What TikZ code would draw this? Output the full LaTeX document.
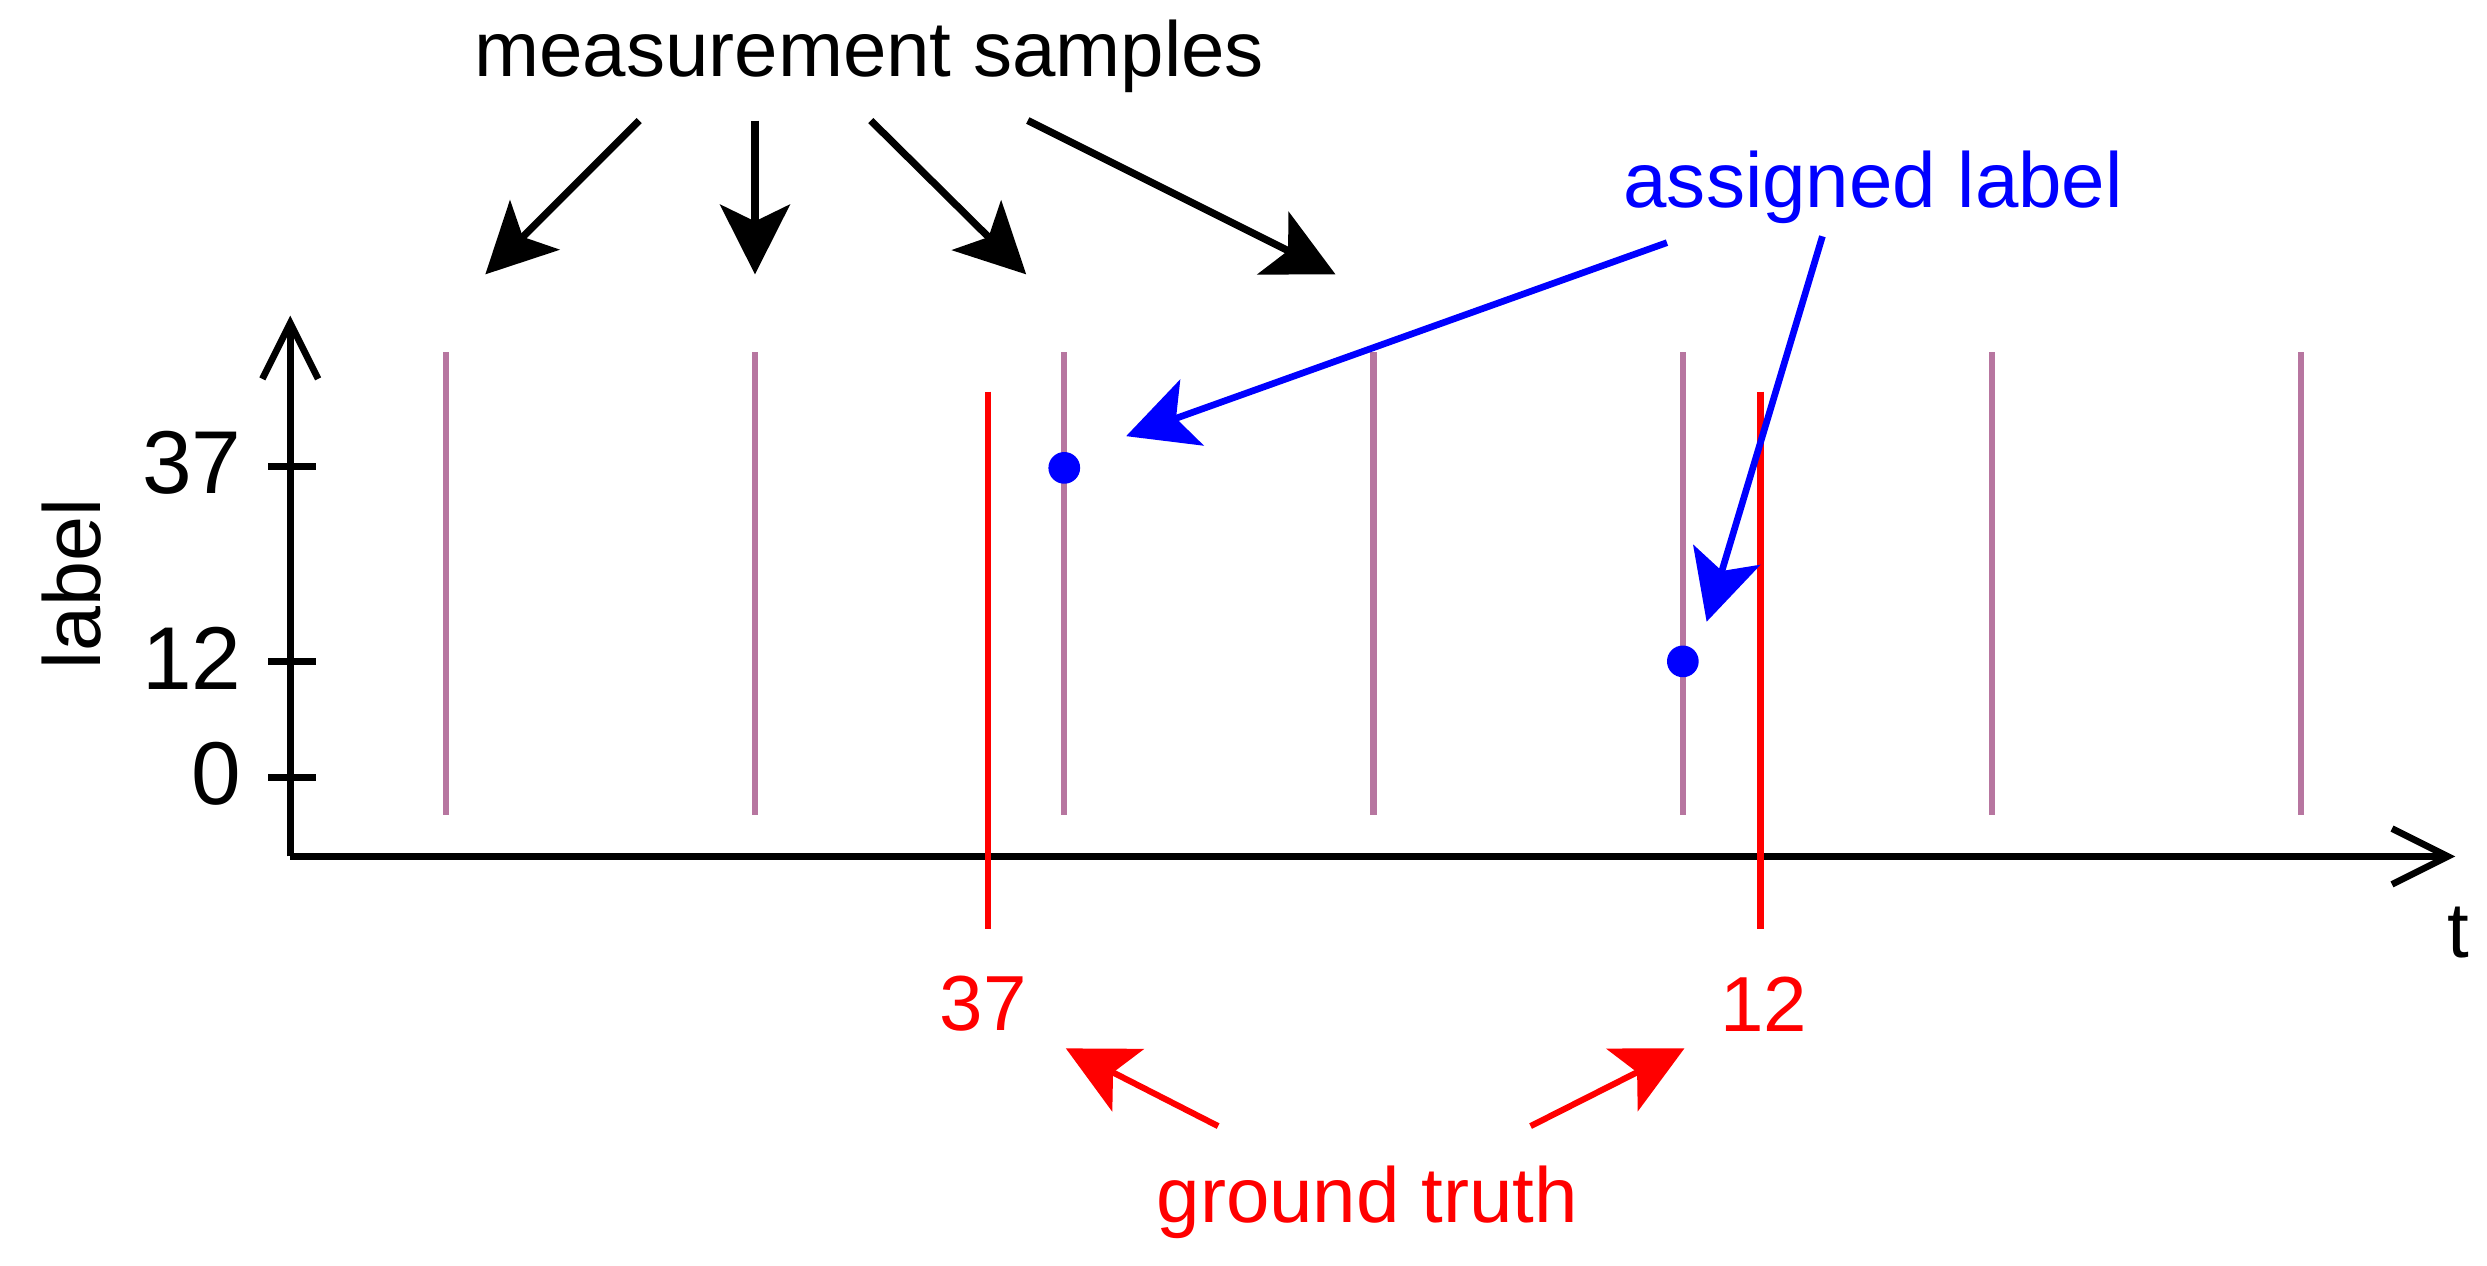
\documentclass[tikz,border=0pt]{standalone}
\usepackage{fontspec}
\setmainfont{Liberation Sans}
\usetikzlibrary{arrows.meta}
\definecolor{sampcol}{RGB}{183,118,160}

\begin{document}
\begin{tikzpicture}[x=0.01cm,y=-0.01cm,line cap=butt,
  txt/.style={font=\fontsize{14}{16}\selectfont,inner sep=0pt},
  num/.style={font=\fontsize{16}{18}\selectfont,inner sep=0pt},
  axis/.style={line width=1.2pt,-{Straight Barb[length=10pt,width=10pt,line width=1.2pt]}},
  bigarrow/.style={line width=1.3pt,-{Stealth[length=12.5pt,width=12.5pt,inset=3pt]}}]
  \useasboundingbox (0,0) rectangle (1568,798);

  % axes
  \coordinate (o) at (183,540);
  \coordinate (ytop) at (183,199);
  \coordinate (xend) at (1548,540);
  \draw[axis] (o) -- (ytop);
  \draw[axis] (o) -- (xend);
  \foreach \v/\y in {37/294,12/417,0/490}{
    \draw[line width=1.2pt] (169,\y) coordinate (tk\v) -- (199,\y);
    \node[num,anchor=east] (lab\v) at (153,\y-2) {\v};
  }
  \node[txt,rotate=90,font=\fontsize{14.5}{16}\selectfont] (ylab) at (45,368) {label};
  \node[txt] (tlab) at (1550,588) {t};

  % samples
  \foreach \i in {0,...,6}
    \draw[sampcol,line width=1.1pt] (281+195*\i,222) coordinate (s\i) -- (281+195*\i,514);

  % ground truth
  \draw[red,line width=1.2pt] (623,247) coordinate (g1) -- (623,586);
  \draw[red,line width=1.2pt] (1110,247) coordinate (g2) -- (1110,586);
  \node[txt,red] (gt37) at (620,633) {37};
  \node[txt,red] (gt12) at (1112,633) {12};

  % assigned labels
  \fill[blue] (671,295) circle (10) node (d1) {};
  \fill[blue] (1061,417) circle (10) node (d2) {};

  \node[txt,anchor=base] (meas) at (548,48) {measurement samples};
  \coordinate (m1) at (403,76);   \coordinate (e1) at (306,173);
  \coordinate (m2) at (476,76);   \coordinate (e2) at (476,173);
  \coordinate (m3) at (549,76);   \coordinate (e3) at (647,173);
  \coordinate (m4) at (648,76);   \coordinate (e4) at (842,173);
  \draw[bigarrow] (m1) -- (e1);
  \draw[bigarrow] (m2) -- (e2);
  \draw[bigarrow] (m3) -- (e3);
  \draw[bigarrow] (m4) -- (e4);

  \node[txt,blue,anchor=base] (asg) at (1181,131) {assigned label};
  \coordinate (a1) at (1051,153);  \coordinate (b1) at (710,275);
  \coordinate (a2) at (1149,149);  \coordinate (b2) at (1076,392);
  \draw[bigarrow,blue,line width=1.2pt] (a1) -- (b1);
  \draw[bigarrow,blue,line width=1.2pt] (a2) -- (b2);

  \node[txt,red] (gtr) at (862,758) {ground truth};
  \coordinate (r1) at (768,710);  \coordinate (q1) at (672,661);
  \coordinate (r2) at (965,710);  \coordinate (q2) at (1062,661);
  \draw[bigarrow,red,line width=1.1pt] (r1) -- (q1);
  \draw[bigarrow,red,line width=1.1pt] (r2) -- (q2);
\end{tikzpicture}
\end{document}
